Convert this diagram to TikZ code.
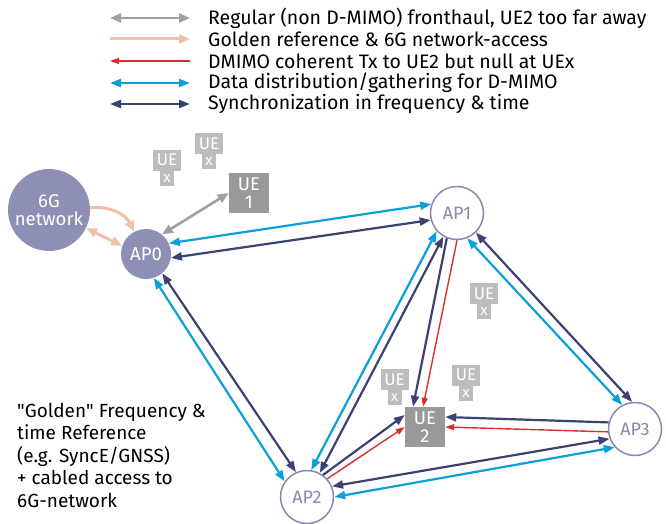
\documentclass[tikz,border=0pt]{standalone}
\usepackage{fontspec}
\setmainfont{Fira Sans}
\usetikzlibrary{arrows.meta,positioning}
\definecolor{netpurple}{HTML}{8E8FB5}
\definecolor{apgray}{HTML}{8A88AE}
\definecolor{uegray}{HTML}{999999}
\definecolor{uexgray}{HTML}{BDBDBD}
\definecolor{fhgray}{HTML}{A0A0A0}
\definecolor{goldpink}{HTML}{F2BFA8}
\definecolor{dmred}{HTML}{D9302E}
\definecolor{datacyan}{HTML}{0AA0DC}
\definecolor{syncnavy}{HTML}{3B4272}

\begin{document}
\begin{tikzpicture}[x=1pt,y=-1pt,
  netnode/.style={circle,fill=netpurple,text=white,inner sep=0pt,align=center,font=\fontsize{18.5}{18}\selectfont},
  apnode/.style={circle,draw=apgray,line width=1.5pt,fill=white,text=apgray,minimum size=53pt,inner sep=0pt,font=\fontsize{18}{18}\selectfont},
  uebox/.style={fill=uegray,text=white,minimum width=40pt,minimum height=40pt,inner sep=0pt,align=center,font=\fontsize{18.5}{18}\selectfont},
  uexbox/.style={fill=uexgray,text=white,minimum width=28pt,minimum height=21pt,inner sep=0pt,font=\fontsize{17}{17}\selectfont},
  uexsub/.style={fill=uexgray,text=white,minimum width=14pt,minimum height=15pt,inner sep=0pt,font=\fontsize{15}{15}\selectfont},
  legtext/.style={anchor=west,inner sep=0pt,font=\fontsize{19.5}{20}\selectfont},
  fharr/.style={draw=fhgray,line width=2.6pt,{Triangle[length=11pt,width=9pt]}-{Triangle[length=11pt,width=9pt]}},
  goldarr/.style={draw=goldpink,line width=3pt,-{Triangle[length=11pt,width=9pt]}},
  dmarr/.style={draw=dmred,line width=1.4pt,-{Triangle[length=9pt,width=6pt]}},
  dataarr/.style={draw=datacyan,line width=2.2pt,{Triangle[length=11pt,width=8pt]}-{Triangle[length=11pt,width=8pt]}},
  syncarr/.style={draw=syncnavy,line width=2.2pt,{Triangle[length=11pt,width=8pt]}-{Triangle[length=11pt,width=8pt]}},
  synconearr/.style={draw=syncnavy,line width=2.2pt,-{Triangle[length=11pt,width=8pt]}}]
\useasboundingbox (0,0) rectangle (666,524);

% legend
\node[legtext] (leg1) at (208,18) {Regular (non D-MIMO) fronthaul, UE2 too far away};
\node[legtext] (leg2) at (208,39) {Golden reference \& 6G network-access};
\node[legtext] (leg3) at (208,61) {DMIMO coherent Tx to UE2 but null at UEx};
\node[legtext] (leg4) at (208,83) {Data distribution/gathering for D-MIMO};
\node[legtext] (leg5) at (208,104) {Synchronization in frequency \& time};
\draw[fharr] ([xshift=-98pt]leg1.west) -- ([xshift=-18pt]leg1.west);
\draw[goldarr] ([xshift=-98pt]leg2.west) -- ([xshift=-18pt]leg2.west);
\draw[dmarr] ([xshift=-18pt]leg3.west) -- ([xshift=-98pt]leg3.west);
\draw[dataarr] ([xshift=-98pt]leg4.west) -- ([xshift=-18pt]leg4.west);
\draw[syncarr] ([xshift=-98pt]leg5.west) -- ([xshift=-18pt]leg5.west);

% network and access points
\node[netnode,minimum size=82pt] (net) at (49,210) {6G\\network};
\node[netnode,minimum size=50pt] (AP0) at (146,254) {AP0};
\node[apnode] (AP1) at (457,213) {AP1};
\node[apnode] (AP2) at (307,497) {AP2};
\node[apnode] (AP3) at (635,429) {AP3};

% user equipment
\node[uebox] (UE1) at (249,193) {UE\\1};
\node[uebox] (UE2) at (425,427) {UE\\2};
\node[uexbox] (uexA) at (167,160) {UE};
\node[uexsub,anchor=north] (uexAx) at (uexA.south) {x};
\node[uexbox] (uexB) at (209,143.5) {UE};
\node[uexsub,anchor=north] (uexBx) at (uexB.south) {x};
\node[uexbox] (uexC) at (484,293.5) {UE};
\node[uexsub,anchor=north] (uexCx) at (uexC.south) {x};
\node[uexbox] (uexD) at (394.5,379.5) {UE};
\node[uexsub,anchor=north] (uexDx) at (uexD.south) {x};
\node[uexbox] (uexE) at (466,375) {UE};
\node[uexsub,anchor=north] (uexEx) at (uexE.south) {x};

% golden reference note
\node[anchor=north west,align=left,inner sep=0pt,font=\fontsize{19}{22.5}\selectfont] (note) at (17,403)
  {\textquotedbl Golden\textquotedbl{} Frequency \&\\time Reference\\(e.g. SyncE/GNSS)\\+ cabled access to\\6G-network};

% links
\draw[goldarr] (net.3) to[bend left=35] (AP0.118);
\draw[goldarr,{Triangle[length=11pt,width=9pt]}-{Triangle[length=11pt,width=9pt]}] (net.-26) -- (AP0.161);
\draw[fharr] (AP0.51) -- (UE1.west);
\draw[dataarr] (AP0.25) -- (AP1.161);
\draw[syncarr] (AP0.-9) -- (AP1.195);
\draw[dataarr] (AP0.-72) -- (AP2.145);
\draw[syncarr] (AP0.-50) -- (AP2.114);
\draw[dataarr] (AP1.222) -- (AP2.81);
\draw[syncarr] (AP1.240) -- (AP2.62);
\draw[dataarr] (AP1.-68) -- (AP3.118);
\draw[syncarr] (AP1.-46) -- (AP3.96);
\draw[syncarr] (AP2.23) -- (AP3.201);
\draw[dataarr] (AP2.0) -- (AP3.222);
\draw[synconearr] (AP1.248) -- ([xshift=-12pt]UE2.north);
\draw[dmarr] (AP1.270) -- ([xshift=-2pt]UE2.north);
\draw[synconearr] (AP2.54) -- ([yshift=12pt]UE2.west);
\draw[dmarr] (AP2.42) -- (UE2.west);
\draw[synconearr] (AP3.166) -- ([yshift=10pt]UE2.east);
\draw[dmarr] (AP3.186) -- (UE2.east);
\end{tikzpicture}
\end{document}
